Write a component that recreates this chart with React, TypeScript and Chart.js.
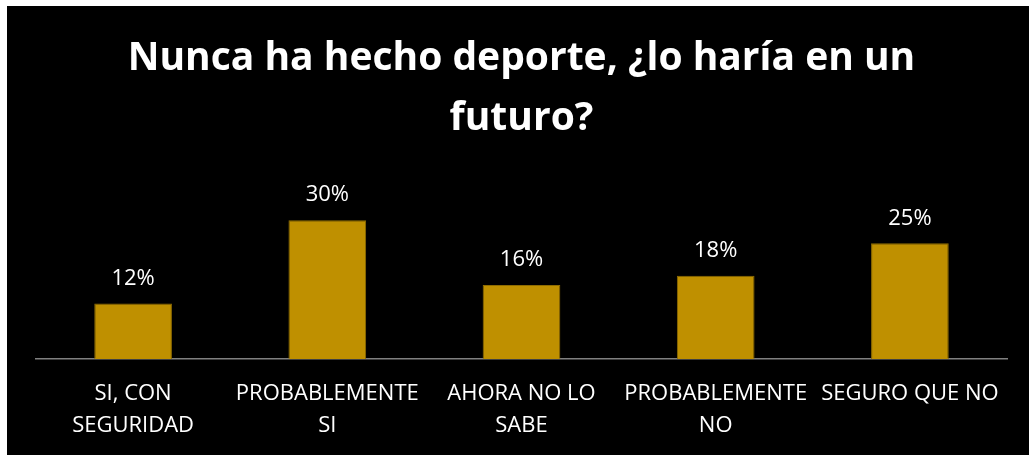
import React, { useEffect, useRef } from "react";
import { Chart, registerables } from "chart.js";

Chart.register(...registerables);

const titleLines = ["Nunca ha hecho deporte, ¿lo haría en un", "futuro?"];
const categories: string[][] = [
  ["SI, CON", "SEGURIDAD"],
  ["PROBABLEMENTE", "SI"],
  ["AHORA NO LO", "SABE"],
  ["PROBABLEMENTE", "NO"],
  ["SEGURO QUE NO"],
];
const values = [0.12, 0.3, 0.16, 0.18, 0.25];
const valueLabels = ["12%", "30%", "16%", "18%", "25%"];

const FONT = "'Open Sans', 'Noto Sans', sans-serif";

const dataLabelPlugin = {
  id: "dataLabels",
  afterDatasetsDraw(chart: any) {
    const ctx = chart.ctx;
    const meta = chart.getDatasetMeta(0);
    ctx.save();
    ctx.fillStyle = "#ffffff";
    ctx.font = `22px ${FONT}`;
    ctx.textAlign = "center";
    ctx.textBaseline = "middle";
    meta.data.forEach((bar: any, i: number) => {
      ctx.fillText(valueLabels[i], bar.x, bar.y - 25);
    });
    ctx.restore();
  },
};

const bgPlugin = {
  id: "bg",
  beforeDraw(chart: any) {
    const ctx = chart.ctx;
    ctx.save();
    ctx.fillStyle = "#000000";
    ctx.fillRect(0, 0, chart.width, chart.height);
    ctx.restore();
  },
};

export default function App() {
  const ref = useRef<HTMLCanvasElement>(null);
  useEffect(() => {
    if (!ref.current) return;
    const chart = new Chart(ref.current, {
      type: "bar",
      data: {
        labels: categories,
        datasets: [
          {
            data: values,
            backgroundColor: "#BF9000",
            borderColor: "#8f6c00",
            borderWidth: 1,
            categoryPercentage: 1,
            barPercentage: 0.4,
          },
        ],
      },
      options: {
        animation: false,
        responsive: true,
        maintainAspectRatio: false,
        layout: { padding: { left: 29, right: 22, top: 0, bottom: 0 } },
        plugins: {
          legend: { display: false },
          tooltip: { enabled: false },
          title: {
            display: true,
            text: titleLines,
            color: "#ffffff",
            font: { family: FONT, size: 39, weight: "bold", lineHeight: "60px" } as any,
            padding: { top: 23, bottom: 48 },
          },
        },
        scales: {
          x: {
            grid: { display: false, drawTicks: false },
            border: { display: true, color: "#808080", width: 1.5 },
            ticks: {
              color: "#ffffff",
              font: { family: FONT, size: 22, lineHeight: "32px" } as any,
              padding: 19,
              maxRotation: 0,
              autoSkip: false,
            },
          },
          y: {
            display: false,
            min: 0,
            max: 0.35,
          },
        },
      },
      plugins: [bgPlugin, dataLabelPlugin],
    });
    return () => chart.destroy();
  }, []);
  return (
    <div style={{ position: "fixed", left: 7, top: 6, right: 0, bottom: -6, background: "#000" }}>
      <canvas ref={ref} />
    </div>
  );
}
